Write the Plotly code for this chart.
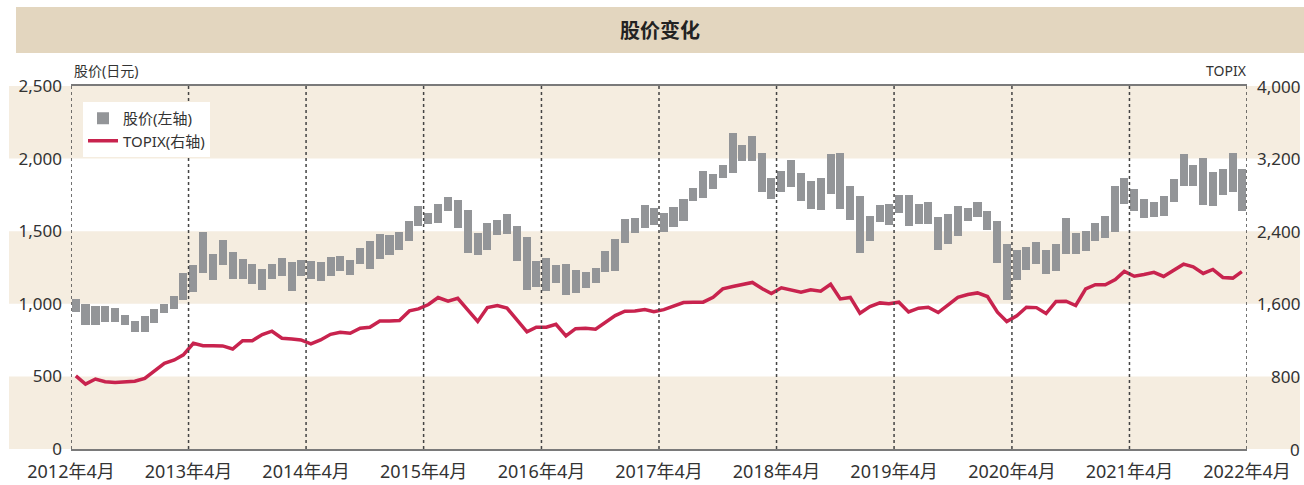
import pandas as pd
import plotly.graph_objects as go

# ---- data ----
months = pd.date_range("2012-04-01", periods=120, freq="MS")
year_ticks = ["2012-04-01", "2013-04-01", "2014-04-01", "2015-04-01", "2016-04-01", "2017-04-01",
              "2018-04-01", "2019-04-01", "2020-04-01", "2021-04-01", "2022-04-01"]
year_labels = ["2012年4月", "2013年4月", "2014年4月", "2015年4月", "2016年4月", "2017年4月",
               "2018年4月", "2019年4月", "2020年4月", "2021年4月", "2022年4月"]

price_low = [942, 857, 857, 873, 873, 857, 809, 809, 871, 935, 963, 1023,
             1080, 1209, 1163, 1266, 1170, 1174, 1133, 1094, 1170, 1190, 1087, 1190,
             1170, 1156, 1190, 1225, 1197, 1273, 1239, 1308, 1335, 1370, 1432, 1535,
             1549, 1556, 1639, 1522, 1349, 1333, 1374, 1473, 1480, 1292, 1092, 1119,
             1085, 1140, 1064, 1071, 1112, 1140, 1218, 1223, 1418, 1487, 1522, 1542,
             1494, 1528, 1570, 1708, 1729, 1791, 1867, 1901, 1984, 1984, 1770, 1722,
             1770, 1805, 1708, 1653, 1646, 1756, 1653, 1577, 1349, 1431, 1562, 1540,
             1625, 1535, 1549, 1549, 1370, 1411, 1466, 1570, 1598, 1508, 1282, 1025,
             1163, 1232, 1273, 1204, 1225, 1342, 1342, 1363, 1432, 1453, 1494, 1687,
             1639, 1591, 1598, 1604, 1701, 1811, 1811, 1680, 1673, 1749, 1770, 1639]
price_high = [1036, 1002, 988, 988, 970, 926, 885, 919, 963, 1002, 1057, 1211,
              1264, 1492, 1340, 1437, 1354, 1312, 1271, 1243, 1271, 1318, 1286, 1305,
              1292, 1285, 1319, 1326, 1305, 1381, 1430, 1480, 1471, 1492, 1568, 1673,
              1623, 1685, 1736, 1712, 1643, 1487, 1554, 1575, 1616, 1535, 1457, 1292,
              1315, 1264, 1273, 1232, 1218, 1250, 1361, 1443, 1581, 1588, 1678, 1657,
              1623, 1664, 1719, 1798, 1913, 1892, 1954, 2175, 2092, 2154, 2037, 1867,
              1915, 1991, 1899, 1844, 1867, 2030, 2037, 1810, 1740, 1608, 1678, 1685,
              1752, 1752, 1685, 1699, 1595, 1616, 1671, 1657, 1699, 1637, 1568, 1411,
              1368, 1388, 1423, 1368, 1409, 1588, 1485, 1499, 1554, 1602, 1809, 1867,
              1791, 1719, 1699, 1742, 1860, 2032, 1956, 2005, 1906, 1929, 2038, 1927]
topix = [805, 715, 771, 742, 734, 738, 746, 779, 856, 944, 981, 1037,
         1165, 1139, 1139, 1136, 1102, 1194, 1194, 1262, 1298, 1221, 1213, 1202,
         1158, 1202, 1264, 1286, 1275, 1331, 1342, 1411, 1411, 1416, 1522, 1544,
         1592, 1669, 1629, 1661, 1533, 1405, 1558, 1581, 1552, 1426, 1290, 1342,
         1342, 1374, 1246, 1326, 1331, 1320, 1394, 1470, 1518, 1522, 1536, 1514,
         1536, 1570, 1614, 1618, 1618, 1672, 1765, 1790, 1813, 1835, 1765, 1714,
         1776, 1750, 1728, 1754, 1739, 1816, 1654, 1670, 1496, 1570, 1610, 1600,
         1618, 1510, 1552, 1562, 1504, 1589, 1672, 1702, 1720, 1680, 1507, 1405,
         1467, 1562, 1558, 1493, 1626, 1629, 1581, 1765, 1810, 1810, 1867, 1957,
         1904, 1923, 1946, 1901, 1971, 2037, 2008, 1934, 1978, 1890, 1883, 1954]

left_ticks = [0, 500, 1000, 1500, 2000, 2500]
right_ticks = [0, 800, 1600, 2400, 3200, 4000]
right_labels = ["0", "800", "1,600", "2,400", "3,200", "4,000"]
bands = [(0, 500), (1000, 1500), (2000, 2500)]

# ---- styling ----
FONT = "Noto Sans, Noto Sans CJK SC, sans-serif"
BAND = "#f5ede0"
TITLE_BG = "#e3d6bf"
BAR_C = "#939598"
LINE_C = "#c8234e"
TXT = "#333333"

W, H = 1304, 485
ML, MR, MT, MB = 71, 57, 86, 36
PW = W - ML - MR
PH = H - MT - MB


def px_x(p):
    return (p - ML) / PW


def px_y(p):
    return (H - MB - p) / PH


x_mid = months + pd.Timedelta(days=15)
bar_width_ms = 25 * 24 * 3600 * 1000

fig = go.Figure()
fig.add_trace(go.Bar(
    x=x_mid, y=[h - l for h, l in zip(price_high, price_low)], base=price_low,
    width=bar_width_ms, marker=dict(color=BAR_C, line=dict(width=0)),
    name="股价(左轴)", yaxis="y",
))
fig.add_trace(go.Scatter(
    x=x_mid, y=topix, mode="lines", line=dict(color=LINE_C, width=3.5),
    name="TOPIX(右轴)", yaxis="y2",
))

shapes = []
for y0, y1 in bands:
    shapes.append(dict(type="rect", xref="paper", yref="y", x0=px_x(9), x1=px_x(1300),
                       y0=y0, y1=y1, fillcolor=BAND, line=dict(width=0), layer="below"))
# title bar
shapes.append(dict(type="rect", xref="paper", yref="paper", x0=px_x(16), x1=px_x(1304),
                   y0=px_y(53), y1=px_y(7), fillcolor=TITLE_BG, line=dict(width=0), layer="below"))
# year dotted lines
for t in year_ticks:
    shapes.append(dict(type="line", xref="x", yref="paper", x0=t, x1=t, y0=0, y1=1,
                       line=dict(color="#444444", width=1.5, dash="dot"), layer="above"))

annotations = [
    dict(text="<b>股价变化</b>", xref="paper", yref="paper", x=px_x(660), y=px_y(30),
         showarrow=False, font=dict(size=20, color="#222222", family=FONT),
         xanchor="center", yanchor="middle"),
    dict(text="股价(日元)", xref="paper", yref="paper", x=px_x(72), y=px_y(70),
         showarrow=False, font=dict(size=14, color=TXT, family=FONT),
         xanchor="left", yanchor="middle"),
    dict(text="TOPIX", xref="paper", yref="paper", x=px_x(1249), y=px_y(70),
         showarrow=False, font=dict(size=14, color=TXT, family=FONT),
         xanchor="right", yanchor="middle"),
]
for v, lab in zip(right_ticks, right_labels):
    annotations.append(dict(text=lab, xref="paper", yref="y2", x=px_x(1302), y=v,
                            showarrow=False, font=dict(size=17, color=TXT, family=FONT),
                            xanchor="right", yanchor="middle"))

fig.update_layout(
    width=W, height=H,
    margin=dict(l=ML, r=MR, t=MT, b=MB, autoexpand=False),
    paper_bgcolor="white", plot_bgcolor="rgba(0,0,0,0)",
    font=dict(family=FONT, color=TXT),
    showlegend=True,
    legend=dict(x=px_x(83), y=px_y(102), xanchor="left", yanchor="top",
                bgcolor="white", borderwidth=0, font=dict(size=15, color=TXT),
                tracegroupgap=2),
    xaxis=dict(type="date", range=["2012-04-01", "2022-04-01"], automargin=False,
               tickvals=year_ticks, ticktext=year_labels, showgrid=False,
               tickfont=dict(size=18, color=TXT), ticks="", ticklabelstandoff=6,
               showline=True, mirror=True, linecolor="#7a7a7a", linewidth=1.5,
               zeroline=False, fixedrange=True),
    yaxis=dict(range=[0, 2500], tickvals=left_ticks, tickformat=",", automargin=False,
               tickfont=dict(size=17, color=TXT), showgrid=False, zeroline=False,
               showline=False, ticks="", ticklabelstandoff=8),
    yaxis2=dict(range=[0, 4000], overlaying="y", side="right", showgrid=False, automargin=False,
                zeroline=False, showticklabels=False, showline=False),
    bargap=0,
    shapes=shapes,
    annotations=annotations,
)

fig.write_html("out.html", config={"displayModeBar": False},
               post_script="document.body.style.margin='0';document.body.style.overflow='hidden';")
